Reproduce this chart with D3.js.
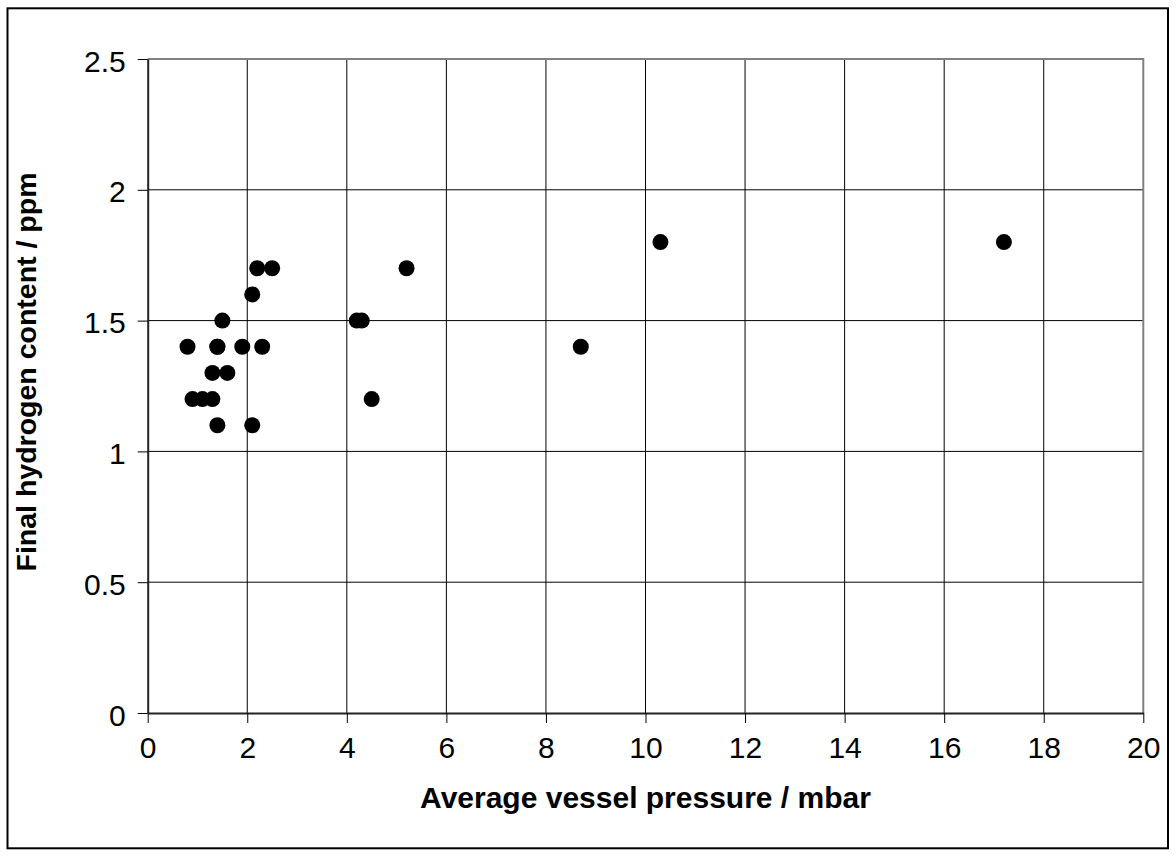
<!DOCTYPE html>
<html>
<head>
<meta charset="utf-8">
<script src="https://cdn.jsdelivr.net/npm/d3@7"></script>
<style>
  html, body { margin: 0; padding: 0; background: #fff; }
  svg { display: block; }
  text { font-family: "Liberation Sans", Arial, sans-serif; fill: #000; }
</style>
</head>
<body>
<svg id="chart" width="1176" height="856"></svg>
<script>
// Average vessel pressure (mbar) for each measured heat
const pressure = [0.8, 0.9, 1.1, 1.3, 1.3, 1.4, 1.4, 1.4, 1.5, 1.6, 1.9, 2.1, 2.1, 2.2, 2.3, 2.5, 4.2, 4.3, 4.5, 5.2, 8.7, 10.3, 17.2];
// Final hydrogen content (ppm) for the same heats
const hydrogen = [1.4, 1.2, 1.2, 1.3, 1.2, 1.4, 1.1, 1.4, 1.5, 1.3, 1.4, 1.6, 1.1, 1.7, 1.4, 1.7, 1.5, 1.5, 1.2, 1.7, 1.4, 1.8, 1.8];

const xTicks = [0, 2, 4, 6, 8, 10, 12, 14, 16, 18, 20];
const yTicks = [0, 0.5, 1, 1.5, 2, 2.5];

const xTitle = "Average vessel pressure / mbar";
const yTitle = "Final hydrogen content / ppm";

const svg = d3.select("#chart");

const plot = { left: 147.7, right: 1143.3, top: 59, bottom: 713 };

const x = d3.scaleLinear().domain([0, 20]).range([plot.left, plot.right]);
const y = d3.scaleLinear().domain([0, 2.5]).range([plot.bottom, plot.top]);

// outer chart frame
svg.append("rect")
  .attr("x", 7.5).attr("y", 8.3)
  .attr("width", 1160.5).attr("height", 840)
  .attr("fill", "none").attr("stroke", "#000").attr("stroke-width", 2);

// grid lines
const grid = svg.append("g");
grid.selectAll("line.v").data(xTicks.slice(1, -1)).join("line")
  .attr("x1", d => x(d)).attr("x2", d => x(d))
  .attr("y1", plot.top).attr("y2", plot.bottom)
  .attr("stroke", "#000").attr("stroke-width", 1);
grid.selectAll("line.h").data(yTicks.slice(1, -1)).join("line")
  .attr("x1", plot.left).attr("x2", plot.right)
  .attr("y1", d => y(d)).attr("y2", d => y(d))
  .attr("stroke", "#000").attr("stroke-width", 1);

// top and right edges of the plot area
svg.append("path")
  .attr("d", `M${plot.left},${plot.top}H${plot.right}V${plot.bottom}`)
  .attr("fill", "none").attr("stroke", "#808080").attr("stroke-width", 2);

// axes
const xAxis = d3.axisBottom(x).tickValues(xTicks).tickFormat(d3.format("d"))
  .tickSizeInner(10).tickSizeOuter(0).tickPadding(14);
const yAxis = d3.axisLeft(y).tickValues(yTicks).tickFormat(d => String(d))
  .tickSizeInner(10).tickSizeOuter(0).tickPadding(12);

const gx = svg.append("g").attr("transform", `translate(0,${plot.bottom})`).call(xAxis);
const gy = svg.append("g").attr("transform", `translate(${plot.left},0)`).call(yAxis);

[gx, gy].forEach(g => {
  g.select(".domain").attr("stroke", "#222").attr("stroke-width", 2);
  g.selectAll(".tick line").attr("stroke", "#000").attr("stroke-width", 1);
  g.selectAll(".tick text")
    .style("font-family", '"Liberation Sans", Arial, sans-serif')
    .style("font-size", "30px").attr("fill", "#000");
});
gx.selectAll(".tick text").attr("dy", "0.71em");
gy.selectAll(".tick text").attr("dy", "0.4em");

// axis titles
svg.append("text")
  .attr("x", (plot.left + plot.right) / 2).attr("y", 808)
  .attr("text-anchor", "middle")
  .style("font-size", "30px").style("font-weight", "bold")
  .text(xTitle);

svg.append("text")
  .attr("transform", `translate(36,372) rotate(-90)`)
  .attr("text-anchor", "middle")
  .style("font-size", "28.5px").style("font-weight", "bold")
  .text(yTitle);

// data points
svg.append("g").selectAll("circle")
  .data(pressure.map((p, i) => [p, hydrogen[i]]))
  .join("circle")
  .attr("cx", d => x(d[0])).attr("cy", d => y(d[1]))
  .attr("r", 8).attr("fill", "#000");
</script>
</body>
</html>
